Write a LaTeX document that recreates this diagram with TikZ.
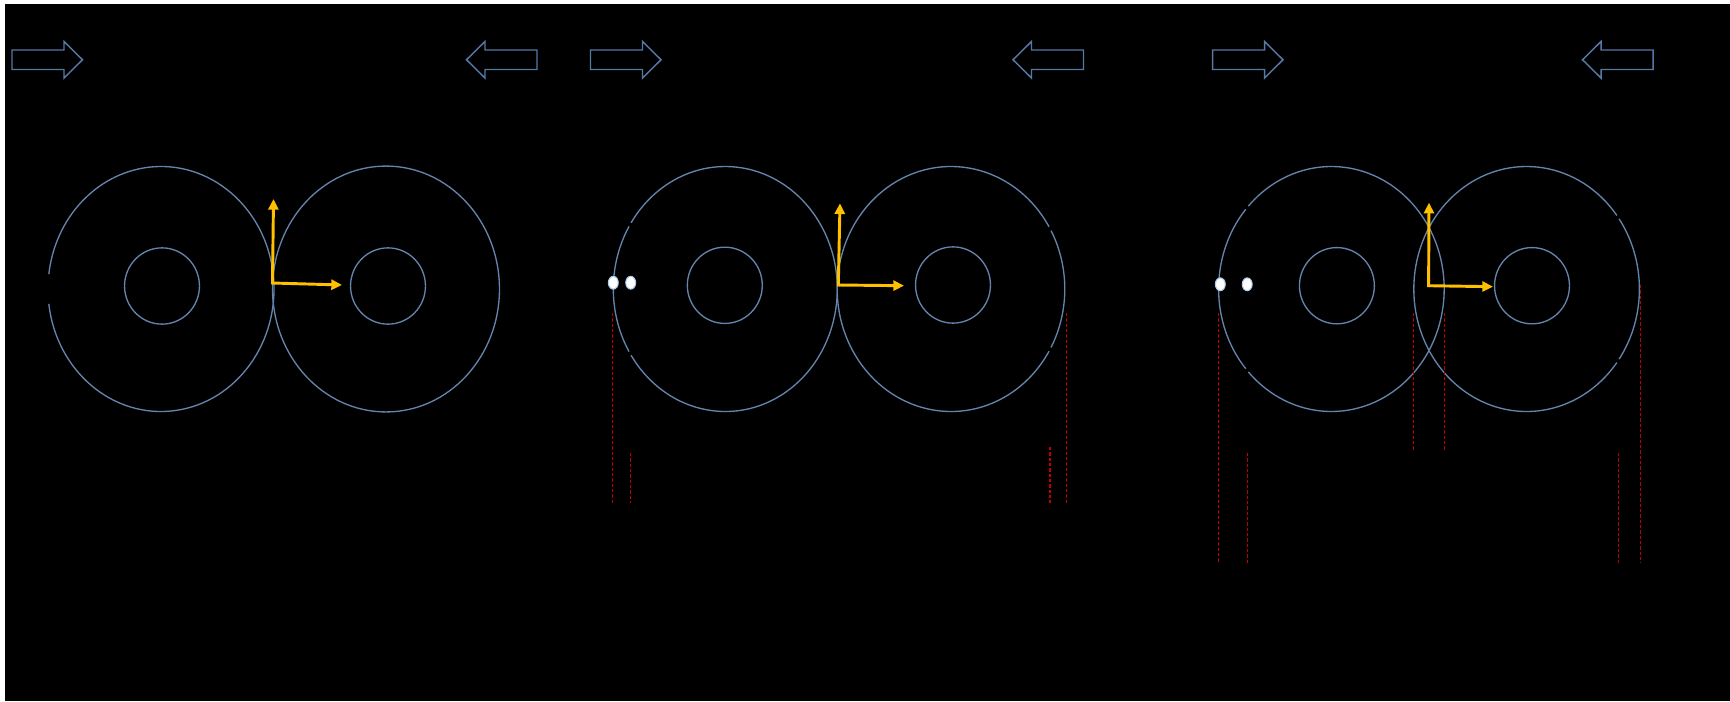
\documentclass[tikz,border=0pt]{standalone}
\usetikzlibrary{arrows.meta}
\definecolor{ringblue}{RGB}{100,132,172}
\definecolor{arrowblue}{RGB}{85,120,165}
\definecolor{goldarrow}{RGB}{255,192,0}
\definecolor{darkredline}{RGB}{192,0,0}
\definecolor{dotedge}{RGB}{170,205,240}
\tikzset{
  ring/.style={draw=ringblue, line width=1pt},
  blockarrow/.style={draw=arrowblue, line width=1.1pt, line join=miter},
  force/.style={draw=goldarrow, line width=2.2pt, -{Triangle[length=8pt,width=7.5pt]}},
  guide/.style={draw=darkredline, line width=0.8pt, dash pattern=on 2.5pt off 1.5pt},
  electron/.style={fill=white, draw=dotedge, line width=0.8pt}
}
\newcommand\rightblock[1]{\draw[blockarrow, shift={(#1,0)}] (0,50) -- (52,50) -- (52,41.5) -- (70.5,59.75) -- (52,78) -- (52,69.5) -- (0,69.5) -- cycle;}
\newcommand\leftblock[1]{\draw[blockarrow, shift={(#1,0)}] (0,50) -- (-52,50) -- (-52,41.5) -- (-70.5,59.75) -- (-52,78) -- (-52,69.5) -- (0,69.5) -- cycle;}
\begin{document}
\begin{tikzpicture}[x=0.75pt,y=-0.75pt]
\useasboundingbox (0,0) rectangle (1730,701);
\fill[white] (0,0) rectangle (1730,701);
\fill[black] (5,4) rectangle (1730,701);

% block arrows
\rightblock{12}
\leftblock{537}
\rightblock{590.5}
\leftblock{1083.5}
\rightblock{1212.5}
\leftblock{1653}

% ---------- panel 1 ----------
\draw[ring] (161,289) ++(-173:84.75pt and 91.875pt) arc[start angle=-173, end angle=173, x radius=84.75pt, y radius=91.875pt];
\draw[ring] (386,289) ellipse [x radius=85.1pt, y radius=92.2pt];
\draw[ring] (162,286) ellipse [x radius=28.1pt, y radius=28.6pt];
\draw[ring] (388,286) ellipse [x radius=28.1pt, y radius=28.6pt];
\coordinate (o1) at (272.5,283);
\coordinate (u1) at (273.5,199);
\coordinate (r1) at (342,285);
\draw[force, shorten <=-1.1pt] (o1) -- (u1);
\draw[force] (o1) -- (r1);

% ---------- panel 2 ----------
\draw[ring] (725.3,289) ++(-147.3:84pt and 91.875pt) arc[start angle=-147.3, end angle=147.3, x radius=84pt, y radius=91.875pt];
\draw[ring] (725.3,289) ++(149.3:84pt and 91.875pt) arc[start angle=149.3, end angle=210.7, x radius=84pt, y radius=91.875pt];
\draw[ring] (951,289) ++(30.5:85.35pt and 91.875pt) arc[start angle=30.5, end angle=329.5, x radius=85.35pt, y radius=91.875pt];
\draw[ring] (951,289) ++(-28.5:85.35pt and 91.875pt) arc[start angle=-28.5, end angle=28.5, x radius=85.35pt, y radius=91.875pt];
\draw[ring] (724.8,285.3) ellipse [x radius=28.1pt, y radius=28.6pt];
\draw[ring] (953,285) ellipse [x radius=28.1pt, y radius=28.6pt];
\coordinate (o2) at (838.3,285);
\coordinate (u2) at (840,203.3);
\coordinate (r2) at (904,285.7);
\draw[force, shorten <=-1.1pt] (o2) -- (u2);
\draw[force] (o2) -- (r2);
\coordinate (a2t) at (612.3,313); \coordinate (a2b) at (612.3,503);
\coordinate (b2t) at (630.7,453); \coordinate (b2b) at (630.7,503);
\coordinate (c2t) at (1050,447);  \coordinate (c2b) at (1050,503);
\coordinate (d2t) at (1066.7,313); \coordinate (d2b) at (1066.7,503);
\draw[guide] (a2t) -- (a2b);
\draw[guide] (b2t) -- (b2b);
\draw[guide] (c2t) -- (c2b);
\draw[guide] (d2t) -- (d2b);
\filldraw[electron] (613.3,282.7) ellipse [x radius=3.7pt, y radius=4.8pt];
\filldraw[electron] (630.7,282.7) ellipse [x radius=3.7pt, y radius=4.8pt];

% ---------- panel 3 ----------
\draw[ring] (1331.4,289) ++(-137.4:84.6pt and 91.875pt) arc[start angle=-137.4, end angle=137.4, x radius=84.6pt, y radius=91.875pt];
\draw[ring] (1331.4,289) ++(139.4:84.6pt and 91.875pt) arc[start angle=139.4, end angle=220.6, x radius=84.6pt, y radius=91.875pt];
\draw[ring] (1526.6,289) ++(36.9:84.6pt and 91.875pt) arc[start angle=36.9, end angle=323.1, x radius=84.6pt, y radius=91.875pt];
\draw[ring] (1526.6,289) ++(-34.9:84.6pt and 91.875pt) arc[start angle=-34.9, end angle=34.9, x radius=84.6pt, y radius=91.875pt];
\draw[ring] (1336.9,285.7) ellipse [x radius=28.1pt, y radius=28.6pt];
\draw[ring] (1532,285.7) ellipse [x radius=28.1pt, y radius=28.6pt];
\coordinate (a3t) at (1218.2,313); \coordinate (a3b) at (1218.2,563);
\coordinate (b3t) at (1247.2,453); \coordinate (b3b) at (1247.2,563);
\coordinate (c3t) at (1413.8,313); \coordinate (c3b) at (1413.8,450);
\coordinate (d3t) at (1444.8,313); \coordinate (d3b) at (1444.8,450);
\coordinate (e3t) at (1618.7,453); \coordinate (e3b) at (1618.7,563);
\coordinate (f3t) at (1640.4,285); \coordinate (f3b) at (1640.4,563);
\draw[guide] (a3t) -- (a3b);
\draw[guide] (b3t) -- (b3b);
\draw[guide] (c3t) -- (c3b);
\draw[guide] (d3t) -- (d3b);
\draw[guide] (e3t) -- (e3b);
\draw[guide] (f3t) -- (f3b);
\coordinate (o3) at (1428.6,285.7);
\coordinate (u3) at (1429,202.7);
\coordinate (r3) at (1493,286.7);
\draw[force, shorten <=-1.1pt] (o3) -- (u3);
\draw[force] (o3) -- (r3);
\filldraw[electron] (1220.3,284.3) ellipse [x radius=3.7pt, y radius=4.8pt];
\filldraw[electron] (1247.2,284.3) ellipse [x radius=3.7pt, y radius=4.8pt];
\end{tikzpicture}
\end{document}
